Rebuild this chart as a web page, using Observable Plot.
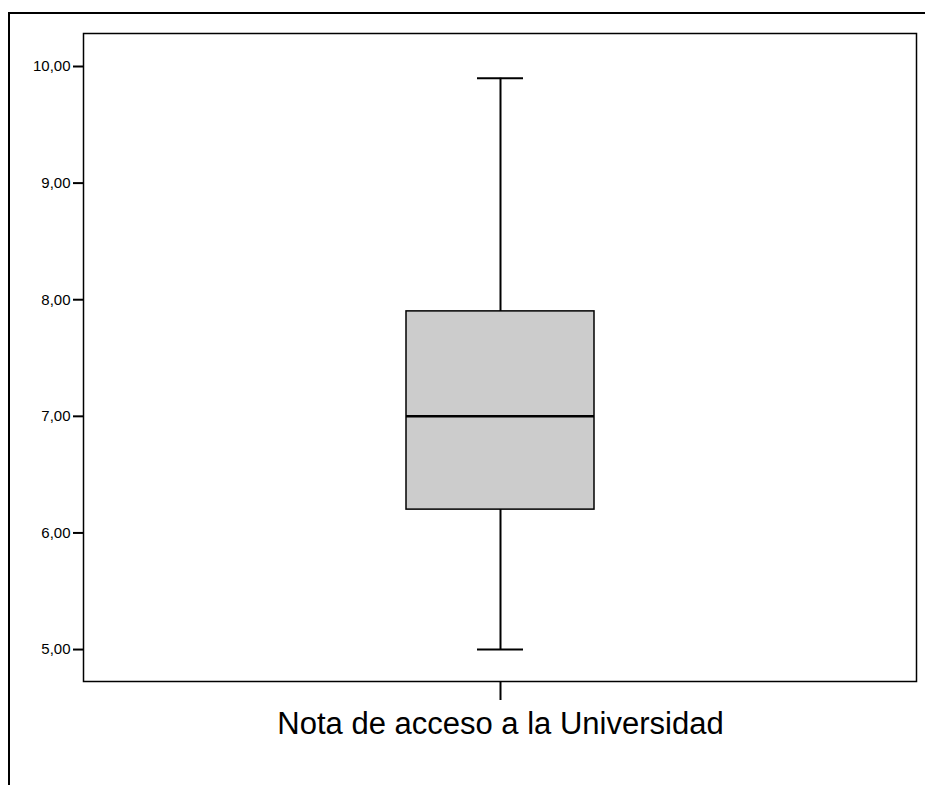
<!DOCTYPE html>
<html>
<head>
<meta charset="utf-8">
<script src="https://cdn.jsdelivr.net/npm/d3@7"></script>
<script src="https://cdn.jsdelivr.net/npm/@observablehq/plot@0.6"></script>
<style>
  html, body { margin: 0; padding: 0; background: #fff; }
  #wrap { position: relative; width: 925px; height: 785px; overflow: hidden; }
  #border { position: absolute; left: 8px; top: 12px; right: -10px; bottom: -10px;
            border-left: 2.5px solid #000; border-top: 2.5px solid #000; }
  #chart { position: absolute; left: 0; top: 0; }
</style>
</head>
<body>
<div id="wrap"><div id="border"></div><div id="chart"></div></div>
<script>
const categories = ["Nota de acceso a la Universidad"];
const minValues = [5.0];
const q1Values = [6.2];
const medianValues = [7.0];
const q3Values = [7.9];
const maxValues = [9.9];
const yTicks = [5, 6, 7, 8, 9, 10];

const data = categories.map((c, i) => ({
  cat: c, min: minValues[i], q1: q1Values[i], med: medianValues[i], q3: q3Values[i], max: maxValues[i]
}));

const fmt = d => d3.format(".2f")(d).replace(".", ",");

const plot = Plot.plot({
  width: 925,
  height: 785,
  marginLeft: 83,
  marginRight: 9,
  marginTop: 33,
  marginBottom: 104,
  style: { fontFamily: "Liberation Sans, Arial, sans-serif", color: "#000", background: "transparent" },
  x: { type: "band", domain: categories, padding: 0.632 },
  y: { domain: [4.726, 10.283] },
  marks: [
    Plot.ruleX(data, { x: "cat", y1: "min", y2: "max", stroke: "#000", strokeWidth: 2 }),
    Plot.tickY(data, { x: "cat", y: "min", stroke: "#000", strokeWidth: 2, insetLeft: 71, insetRight: 71 }),
    Plot.tickY(data, { x: "cat", y: "max", stroke: "#000", strokeWidth: 2, insetLeft: 71, insetRight: 71 }),
    Plot.barY(data, { x: "cat", y1: "q1", y2: "q3", fill: "#cccccc", stroke: "#000", strokeWidth: 1.5 }),
    Plot.tickY(data, { x: "cat", y: "med", stroke: "#000", strokeWidth: 2.5 }),
    Plot.axisY({ ticks: yTicks, tickFormat: fmt, tickSize: 10, tickPadding: 3, fontSize: 15, label: null, strokeWidth: 2 }),
    Plot.axisX({ tickSize: 19, tickPadding: 11, fontSize: 31, label: null, strokeWidth: 2 }),
    Plot.frame({ stroke: "#000", strokeWidth: 1.5 })
  ]
});
document.getElementById("chart").appendChild(plot);
</script>
</body>
</html>
